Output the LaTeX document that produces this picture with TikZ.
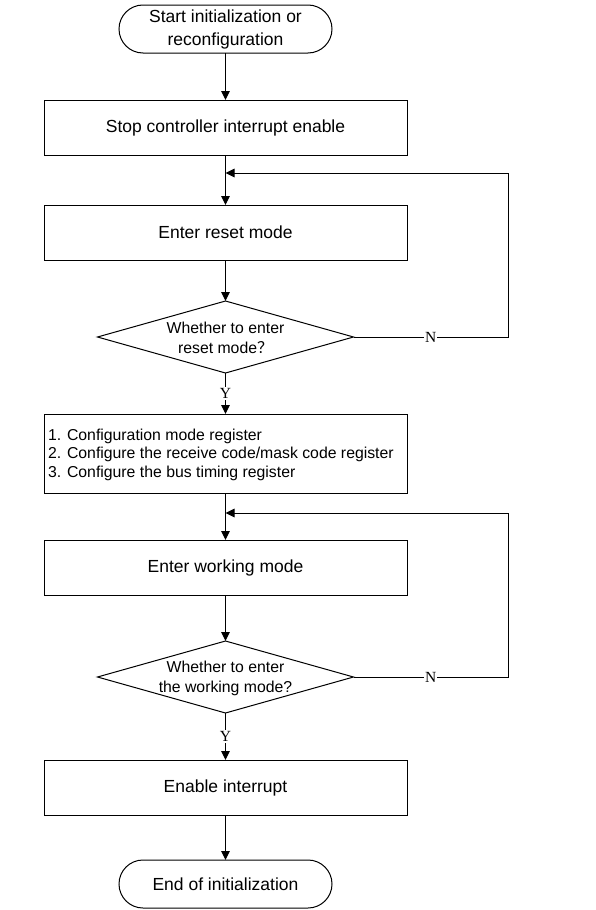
\documentclass[tikz,border=0pt]{standalone}
\usepackage{fontspec}
\setmainfont{Liberation Sans}
\newfontfamily\serifyn{Liberation Serif}
\newfontfamily\cjkq{Noto Sans CJK SC}
\usetikzlibrary{arrows.meta,shapes.geometric}
\begin{document}
\begin{tikzpicture}[x=1pt,y=-1pt,line width=1pt,
  every node/.style={inner sep=0pt,outer sep=0pt},
  term/.style={draw,rectangle,rounded corners=24pt,minimum width=213pt,minimum height=48pt,align=center,font=\fontsize{17.5}{23}\selectfont},
  procbox/.style={draw,rectangle,minimum width=363pt,minimum height=55pt,align=center,font=\fontsize{17.5}{23}\selectfont},
  decbox/.style={draw,diamond,minimum width=256pt,minimum height=72pt,shape aspect=3.55},
  dectext/.style={align=center,font=\fontsize{15.8}{20}\selectfont},
  yn/.style={fill=white,inner sep=1pt,font=\serifyn\fontsize{15.5}{15.5}\selectfont},
  arr/.style={-{Triangle[length=9pt,width=8.5pt]}}]
\useasboundingbox (0,0) rectangle (596,910);
\node[term] (start) at (225.5,29) {Start initialization or\\reconfiguration};
\node[procbox] (stop) at (225.5,127.5) {Stop controller interrupt enable};
\node[procbox] (reset) at (225.5,232.5) {Enter reset mode};
\node[decbox] (d1) at (225.5,337) {};
\node[dectext] (d1t) at (225.5,338) {Whether to enter\\reset mode{\cjkq ？}};
\node[procbox,minimum height=79pt] (config) at (225.5,453.5) {};
\node[anchor=west,align=left,font=\fontsize{15.8}{18.5}\selectfont] (configt) at (48,454.5) {1. Configuration mode register\\2. Configure the receive code/mask code register\\3. Configure the bus timing register};
\node[procbox] (work) at (225.5,567.5) {Enter working mode};
\node[decbox] (d2) at (225.5,677) {};
\node[dectext] (d2t) at (225.5,678) {Whether to enter\\the working mode?};
\node[procbox] (enable) at (225.5,787.5) {Enable interrupt};
\node[term] (end) at (225.5,884) {End of initialization};
\coordinate (j1) at (225.5,173);
\coordinate (r1) at (508,337);
\coordinate (j2) at (225.5,513);
\coordinate (r2) at (508,677);
\draw[arr] (start) -- (stop);
\draw[arr] (stop) -- (reset);
\draw[arr] (reset) -- (d1);
\draw[arr] (d1) -- node[yn] {Y} (config);
\draw[arr] (d1.east) -- node[yn] {N} (r1) -- (r1 |- j1) -- (j1);
\draw[arr] (config) -- (work);
\draw[arr] (work) -- (d2);
\draw[arr] (d2) -- node[yn] {Y} (enable);
\draw[arr] (d2.east) -- node[yn] {N} (r2) -- (r2 |- j2) -- (j2);
\draw[arr] (enable) -- (end);
\end{tikzpicture}
\end{document}
